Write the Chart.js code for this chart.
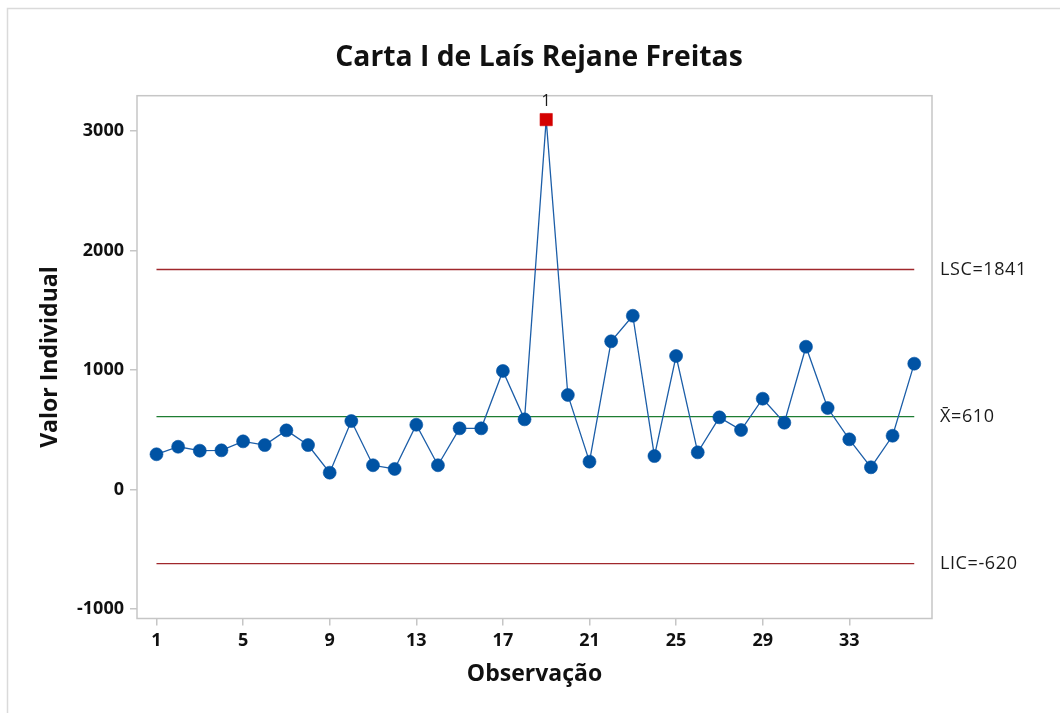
<!DOCTYPE html>
<html lang="pt">
<head>
<meta charset="utf-8">
<title>Carta I de Laís Rejane Freitas</title>
<script src="https://cdn.jsdelivr.net/npm/chart.js@4.4.1/dist/chart.umd.min.js"></script>
<style>
  html, body { margin: 0; padding: 0; background: #fff; }
  #wrap { width: 1060px; height: 713px; position: relative; }
</style>
</head>
<body>
<div id="wrap"><canvas id="carta" width="1060" height="713"></canvas></div>
<script>
// observações individuais
const observacoes = [
  1, 2, 3, 4, 5, 6, 7, 8, 9, 10, 11, 12, 13, 14, 15, 16, 17, 18,
  19, 20, 21, 22, 23, 24, 25, 26, 27, 28, 29, 30, 31, 32, 33, 34, 35, 36,
];
const valores = [
  295, 358, 325, 328, 403, 372, 495, 372, 141, 573, 203, 172, 542, 203, 512, 512, 992, 587,
  3095, 791, 233, 1240, 1454, 280, 1117, 311, 604, 498, 760, 559, 1195, 682, 420, 186, 450, 1053,
];

// limites de controle
const media = 610;
const lsc = 1841;
const lic = -620;

// pontos que falharam no teste 1
const falhas = [19];

const xTicks = [1, 5, 9, 13, 17, 21, 25, 29, 33];
const yTicks = [-1000, 0, 1000, 2000, 3000];

const fonte = '"Open Sans", "Noto Sans", sans-serif';
const corSerie = "#1c5ea8";
const corPonto = "#0053a4";
const corFalha = "#d40000";
const corLimite = "#a0282c";
const corMedia = "#1e7d32";
const corMoldura = "#c6c6c6";

const pontos = observacoes.map((obs, i) => ({ x: obs, y: valores[i] }));
const ehFalha = (obs) => falhas.includes(obs);

const linhaHorizontal = (valor) => [
  { x: observacoes[0], y: valor },
  { x: observacoes[observacoes.length - 1], y: valor },
];

// moldura, título, rótulos dos limites e marcação do teste
const decoracao = {
  id: "decoracao",
  beforeDraw(chart) {
    const { ctx } = chart;
    ctx.save();
    ctx.strokeStyle = "#dadada";
    ctx.lineWidth = 1.5;
    ctx.beginPath();
    ctx.moveTo(7.5, 713);
    ctx.lineTo(7.5, 8.5);
    ctx.lineTo(1060, 8.5);
    ctx.stroke();

    ctx.fillStyle = "#111";
    ctx.font = `bold 28.3px ${fonte}`;
    ctx.textAlign = "center";
    ctx.textBaseline = "middle";
    ctx.fillText("Carta I de Laís Rejane Freitas", 539, 58);
    ctx.restore();
  },
  afterDatasetsDraw(chart) {
    const { ctx, chartArea, scales } = chart;
    const { x, y } = scales;
    ctx.save();
    ctx.strokeStyle = corMoldura;
    ctx.lineWidth = 1.5;
    ctx.strokeRect(chartArea.left, chartArea.top, chartArea.right - chartArea.left, chartArea.bottom - chartArea.top);

    ctx.fillStyle = "#1a1a1a";
    ctx.font = `18px ${fonte}`;
    ctx.textAlign = "left";
    ctx.textBaseline = "middle";
    if ("letterSpacing" in ctx) ctx.letterSpacing = "0.6px";
    const rotulos = [
      [`LSC=${lsc}`, lsc],
      [`X\u0304=${media}`, media],
      [`LIC=${lic}`, lic],
    ];
    rotulos.forEach(([texto, valor]) => {
      ctx.fillText(texto, chartArea.right + 8, y.getPixelForValue(valor));
    });
    if ("letterSpacing" in ctx) ctx.letterSpacing = "0px";

    ctx.textAlign = "center";
    ctx.font = `16px ${fonte}`;
    falhas.forEach((obs) => {
      const idx = observacoes.indexOf(obs);
      ctx.fillText("1", x.getPixelForValue(obs), y.getPixelForValue(valores[idx]) - 18);
    });
    ctx.restore();
  },
};

new Chart(document.getElementById("carta"), {
  type: "line",
  data: {
    datasets: [
      {
        label: "Valor Individual",
        data: pontos,
        borderColor: corSerie,
        borderWidth: 1.3,
        tension: 0,
        pointStyle: observacoes.map((o) => (ehFalha(o) ? "rect" : "circle")),
        pointRadius: observacoes.map((o) => (ehFalha(o) ? 8.7 : 6.5)),
        pointBackgroundColor: observacoes.map((o) => (ehFalha(o) ? corFalha : corPonto)),
        pointBorderColor: observacoes.map((o) => (ehFalha(o) ? corFalha : corPonto)),
        pointBorderWidth: 0.6,
      },
      {
        label: "LSC",
        data: linhaHorizontal(lsc),
        borderColor: corLimite,
        borderWidth: 1.3,
        pointRadius: 0,
      },
      {
        label: "Média",
        data: linhaHorizontal(media),
        borderColor: corMedia,
        borderWidth: 1.3,
        pointRadius: 0,
      },
      {
        label: "LIC",
        data: linhaHorizontal(lic),
        borderColor: corLimite,
        borderWidth: 1.3,
        pointRadius: 0,
      },
    ],
  },
  options: {
    responsive: false,
    animation: false,
    layout: { padding: { left: 0, top: 95.7, right: 128, bottom: 14.5 } },
    plugins: {
      legend: { display: false },
      tooltip: { enabled: false },
      title: { display: false },
    },
    scales: {
      x: {
        type: "linear",
        min: 0.1,
        max: 36.82,
        afterBuildTicks: (scale) => {
          scale.ticks = xTicks.map((v) => ({ value: v }));
        },
        afterFit: (scale) => {
          scale.height = 80;
        },
        border: { display: false },
        grid: { drawOnChartArea: false, drawTicks: true, tickLength: 7, color: corMoldura, lineWidth: 1.5 },
        ticks: {
          autoSkip: false,
          maxRotation: 0,
          padding: 5,
          color: "#111",
          font: { family: fonte, size: 18, weight: "bold" },
          callback: (v) => String(v),
        },
        title: {
          display: true,
          text: "Observação",
          color: "#111",
          font: { family: fonte, size: 23, weight: "bold" },
          padding: { top: 0, bottom: 10 },
        },
      },
      y: {
        min: -1079,
        max: 3295,
        afterBuildTicks: (scale) => {
          scale.ticks = yTicks.map((v) => ({ value: v }));
        },
        afterFit: (scale) => {
          scale.width = 137;
        },
        border: { display: false },
        grid: { drawOnChartArea: false, drawTicks: true, tickLength: 7, color: corMoldura, lineWidth: 1.5 },
        ticks: {
          padding: 6,
          color: "#111",
          font: { family: fonte, size: 18, weight: "bold" },
          callback: (v) => String(v),
        },
        title: {
          display: true,
          text: "Valor Individual",
          color: "#111",
          font: { family: fonte, size: 23, weight: "bold" },
          padding: { top: 37, bottom: 0 },
        },
      },
    },
  },
  plugins: [decoracao],
});
</script>
</body>
</html>
